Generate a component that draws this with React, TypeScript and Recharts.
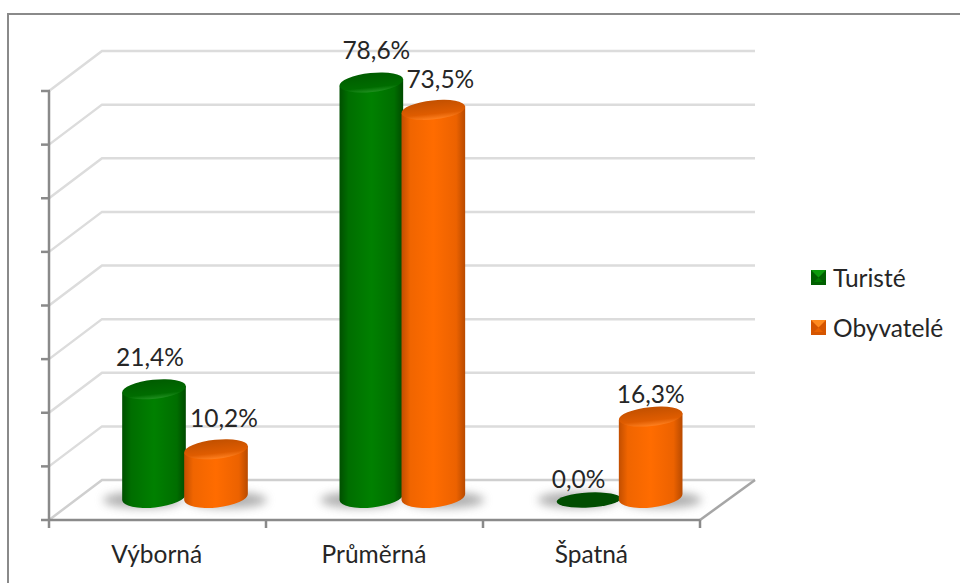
import { BarChart, Bar, XAxis, YAxis, Legend, LabelList } from "recharts";

const categories = ["Výborná", "Průměrná", "Špatná"];
const turiste = [21.4, 78.6, 0.0];
const obyvatele = [10.2, 73.5, 16.3];
const wallTicks = [0, 10, 20, 30, 40, 50, 60, 70, 80];

const data = categories.map((name, i) => ({
  name,
  turiste: turiste[i],
  obyvatele: obyvatele[i],
}));

const FONT = "Lato, sans-serif";
const FONT_SIZE = 24.5;
const TEXT = "#262626";
const AXIS = "#8a8a8a";
const WALL = "#dcdcdc";

// 3d box of the plot: front face to back wall offset
const FRONT_X = 49;
const FRONT_RIGHT = 700;
const BACK_X = 102;
const BACK_RIGHT = 755;
const FRONT_DY = 16;
const BACK_DY = -24;
const TICK_STEP = 53.6;
const TILT = -6;

const WALL_MARGIN = { top: 75, right: 232, bottom: 49, left: 75 };
// hidden axes take no room, so the bars' chart carries their size in its margin
const BARS_MARGIN = { top: 75, right: 232, bottom: 79, left: 76 };
const layerStyle = { position: "absolute", left: 0, top: 0 } as const;

const TONES = {
  green: { body: "url(#bodyGreen)", top: "url(#topGreen)", flat: "#004d00" },
  orange: { body: "url(#bodyOrange)", top: "url(#topOrange)", flat: "#c24e00" },
} as const;

// label nudges for the few labels that sit off centre
const turisteNudge = [{ dx: -4, dy: -23 }, { dx: 5, dy: -24 }, { dx: -10, dy: -16 }];
const obyvateleNudge = [{ dx: 8, dy: -22 }, { dx: 7, dy: -22 }, { dx: 0, dy: -14 }];

function Cylinder({ x, y, width, height, tone, side }: any) {
  const t = TONES[tone as keyof typeof TONES];
  const cx = x + width / 2;
  const rx = width / 2;
  const ry = 9.5;
  const zeroY = y + height;
  const baseY = zeroY - 7;
  const dx = rx * Math.cos((TILT * Math.PI) / 180);
  const dy = -rx * Math.sin((TILT * Math.PI) / 180);

  const shadow = (
    <ellipse
      cx={cx + side * 11}
      cy={zeroY - 4}
      rx={rx + 8}
      ry={8}
      fill="#7a7a7a"
      opacity={0.6}
      filter="url(#softShadow)"
    />
  );

  if (height < 1) {
    return (
      <g>
        {shadow}
        <ellipse
          cx={cx}
          cy={zeroY - 4}
          rx={rx}
          ry={7.5}
          fill={t.flat}
          transform={`rotate(-3 ${cx} ${zeroY - 4})`}
        />
      </g>
    );
  }

  return (
    <g>
      {shadow}
      <path
        d={`M${cx - dx} ${y + dy} L${cx - dx} ${baseY + dy} A${rx} ${ry + 1} ${TILT} 0 0 ${cx + dx} ${baseY - dy} L${cx + dx} ${y - dy} Z`}
        fill={t.body}
      />
      <ellipse
        cx={cx}
        cy={y}
        rx={rx}
        ry={ry}
        fill={t.top}
        transform={`rotate(${TILT} ${cx} ${y})`}
      />
    </g>
  );
}

function WallTick({ y, payload }: any) {
  const front = y + FRONT_DY;
  const back = y + BACK_DY;
  const isFloor = payload.value === 0;
  return (
    <g fill="none">
      <path d={`M${FRONT_X} ${front} L${BACK_X} ${back} L${BACK_RIGHT} ${back}`} stroke={isFloor ? "#cfcfcf" : WALL} strokeWidth={2.5} />
      {isFloor && (
        <g stroke={AXIS} strokeWidth={2.5}>
          <path d={`M${FRONT_RIGHT} ${front} L${BACK_RIGHT} ${back}`} stroke="#a6a6a6" />
          <path d={`M${FRONT_X} ${front} L${FRONT_RIGHT} ${front}`} />
          {categories.concat("").map((_, i) => {
            const tx = FRONT_X + (i * (FRONT_RIGHT - FRONT_X)) / categories.length;
            return <path key={i} d={`M${tx} ${front} L${tx} ${front + 8}`} />;
          })}
        </g>
      )}
      <path d={`M41 ${front} L${FRONT_X + 1} ${front}`} stroke={AXIS} strokeWidth={2.5} />
      {!isFloor && <path d={`M${FRONT_X} ${front} L${FRONT_X} ${front + TICK_STEP}`} stroke={AXIS} strokeWidth={2.5} />}
    </g>
  );
}

function CategoryTick({ x, payload }: any) {
  return (
    <text x={x - 28} y={563} textAnchor="middle" fontFamily={FONT} fontSize={FONT_SIZE} fill={TEXT}>
      {payload.value}
    </text>
  );
}

function valueLabel(nudges: { dx: number; dy: number }[]) {
  return ({ x, y, width, value, index }: any) => (
    <text
      x={x + width / 2 + nudges[index].dx}
      y={y + nudges[index].dy}
      textAnchor="middle"
      fontFamily={FONT}
      fontSize={FONT_SIZE}
      fill={TEXT}
    >
      {`${Number(value).toFixed(1).replace(".", ",")}%`}
    </text>
  );
}

function LegendMark({ dark, mid, light }: { dark: string; mid: string; light: string }) {
  return (
    <svg width={15} height={15} style={{ display: "block" }}>
      <rect x={0} y={0} width={15} height={15} fill={dark} />
      <polygon points="0,0 15,0 7.5,7.5" fill={light} />
      <polygon points="3,12 12,12 7.5,7.5" fill={mid} />
    </svg>
  );
}

function LegendBox({ payload }: any) {
  return (
    <div style={{ fontFamily: FONT, fontSize: FONT_SIZE, color: TEXT }}>
      {(payload ?? []).map((item: any, i: number) => (
        <div key={item.value} style={{ display: "flex", alignItems: "center", height: 50, gap: 7 }}>
          {i === 0 ? (
            <LegendMark dark="#005f00" mid="#007a00" light="#0c9a0c" />
          ) : (
            <LegendMark dark="#d55500" mid="#e86200" light="#ff8a1e" />
          )}
          <span>{item.value}</span>
        </div>
      ))}
    </div>
  );
}

export default function App() {
  return (
    <div style={{ position: "absolute", left: 0, top: 0, width: 960, height: 583, background: "#fff", overflow: "hidden" }}>
      <div style={{ position: "absolute", left: 7, top: 13, width: 960, height: 600, borderLeft: `2.5px solid ${AXIS}`, borderTop: `2.5px solid ${AXIS}` }} />
      {/* walls and axes sit in their own chart underneath, axis ticks would paint over the bars otherwise */}
      <BarChart width={960} height={583} data={data} margin={WALL_MARGIN} style={layerStyle}>
        <YAxis
          width={1}
          domain={[0, 80]}
          ticks={wallTicks}
          interval={0}
          axisLine={false}
          tickLine={false}
          tick={<WallTick />}
        />
        <XAxis dataKey="name" height={30} axisLine={false} tickLine={false} interval={0} tick={<CategoryTick />} />
        <Bar dataKey="turiste" isAnimationActive={false} shape={() => null} />
      </BarChart>
      <BarChart
        width={960}
        height={583}
        data={data}
        margin={BARS_MARGIN}
        barSize={64}
        barGap={-2}
        style={layerStyle}
      >
        <defs>
          <linearGradient id="bodyGreen" x1="0" y1="0" x2="1" y2="0">
            <stop offset="0" stopColor="#004f00" />
            <stop offset="0.14" stopColor="#006e00" />
            <stop offset="0.5" stopColor="#008000" />
            <stop offset="0.86" stopColor="#006e00" />
            <stop offset="1" stopColor="#004a00" />
          </linearGradient>
          <linearGradient id="bodyOrange" x1="0" y1="0" x2="1" y2="0">
            <stop offset="0" stopColor="#c24e00" />
            <stop offset="0.14" stopColor="#f06500" />
            <stop offset="0.5" stopColor="#ff6c00" />
            <stop offset="0.86" stopColor="#ec6200" />
            <stop offset="1" stopColor="#b84a00" />
          </linearGradient>
          <linearGradient id="topGreen" x1="0" y1="0" x2="0" y2="1">
            <stop offset="0" stopColor="#005c00" />
            <stop offset="0.75" stopColor="#006c00" />
            <stop offset="1" stopColor="#1f8f1f" />
          </linearGradient>
          <linearGradient id="topOrange" x1="0" y1="0" x2="0" y2="1">
            <stop offset="0" stopColor="#c25000" />
            <stop offset="0.7" stopColor="#df5c00" />
            <stop offset="1" stopColor="#ff8020" />
          </linearGradient>
          <filter id="softShadow" x="-30%" y="-80%" width="160%" height="260%">
            <feGaussianBlur stdDeviation="5" />
          </filter>
        </defs>
        <YAxis hide width={1} domain={[0, 80]} />
        <XAxis hide dataKey="name" height={30} />
        <Legend
          layout="vertical"
          align="center"
          verticalAlign="middle"
          itemSorter={null}
          content={<LegendBox />}
          wrapperStyle={{ left: 811, top: 252, width: 149 }}
        />
        <Bar
          dataKey="turiste"
          name="Turisté"
          fill="#007a00"
          isAnimationActive={false}
          shape={(p: any) => <Cylinder {...p} tone="green" side={-1} />}
        >
          <LabelList dataKey="turiste" content={valueLabel(turisteNudge)} />
        </Bar>
        <Bar
          dataKey="obyvatele"
          name="Obyvatelé"
          fill="#ff6c00"
          isAnimationActive={false}
          shape={(p: any) => <Cylinder {...p} tone="orange" side={1} />}
        >
          <LabelList dataKey="obyvatele" content={valueLabel(obyvateleNudge)} />
        </Bar>
      </BarChart>
    </div>
  );
}
